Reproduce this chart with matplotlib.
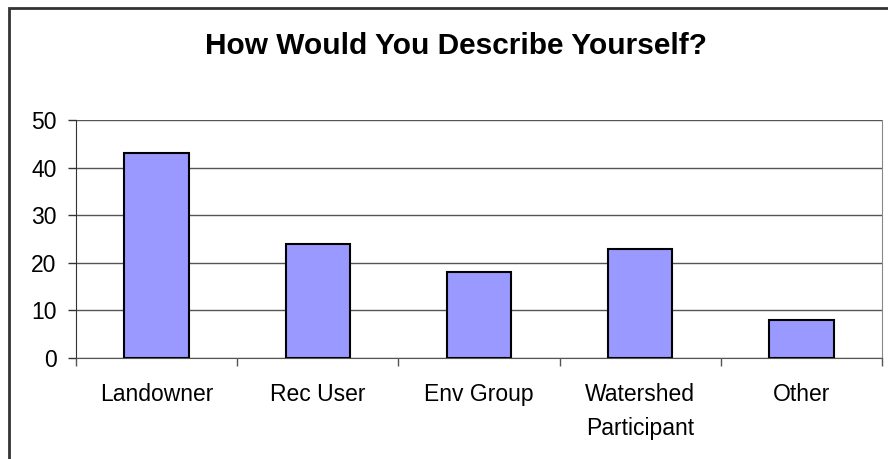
import matplotlib
matplotlib.use("Agg")
import matplotlib.pyplot as plt
from matplotlib.patches import Rectangle
import numpy as np

plt.rcParams['font.family'] = ['Liberation Sans', 'DejaVu Sans']

categories = ["Landowner", "Rec User", "Env Group", "Watershed\nParticipant", "Other"]
values = [43, 24, 18, 23, 8]
yticks = [0, 10, 20, 30, 40, 50]

W, H = 888, 459
fig = plt.figure(figsize=(W / 100, H / 100), dpi=100)
ax = fig.add_axes([76 / W, 1 - 358 / H, (882 - 76) / W, (358 - 120) / H])

x = np.arange(len(categories))
ax.bar(x, values, width=0.4, color="#9999FF", edgecolor="black", linewidth=1.5, zorder=3)
ax.set_xlim(-0.5, len(categories) - 0.5)
ax.set_ylim(0, 50)
ax.set_yticks(yticks)
ax.set_yticklabels([str(v) for v in yticks], fontsize=16.5)
ax.yaxis.grid(True, color="#555555", linewidth=1, zorder=0)
ax.set_axisbelow(True)

ax.set_xticks(x)
ax.set_xticklabels(categories, fontsize=16.5, linespacing=1.6)
ax.tick_params(axis='x', which='major', length=0, pad=18)
ax.set_xticks(np.arange(len(categories) + 1) - 0.5, minor=True)
ax.tick_params(axis='x', which='minor', length=6, width=1, color="#555555", direction='out')
ax.tick_params(axis='y', length=6, width=1, color="#333333", direction='out', pad=8)

ax.spines['top'].set_visible(False)
ax.spines['right'].set_color("#888888")
ax.spines['left'].set_color("#333333")
ax.spines['bottom'].set_color("#555555")

fig.text(456 / W, 1 - 46 / H, "How Would You Describe Yourself?", ha='center', va='center',
         fontsize=21.5, fontweight='bold')

fig.patches.append(Rectangle((9 / W, -0.1), 1.2, 1 - 8 / H + 0.1, transform=fig.transFigure,
                             fill=False, edgecolor="#333333", linewidth=2, figure=fig))

fig.savefig("out.png", dpi=100)
